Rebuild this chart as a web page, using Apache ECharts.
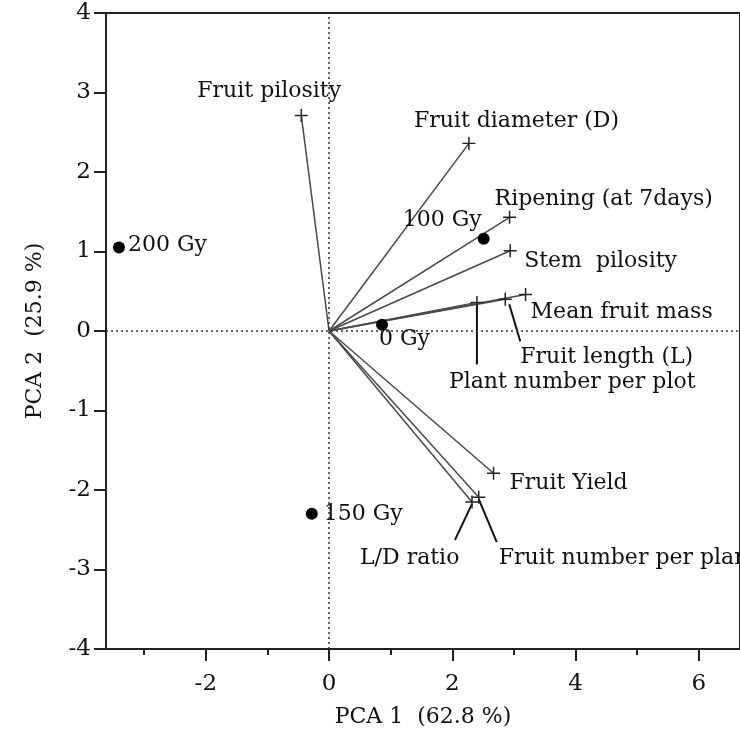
<!DOCTYPE html>
<html><head><meta charset="utf-8">
<script src="https://cdn.jsdelivr.net/npm/echarts@6/dist/echarts.min.js"></script>
<style>html,body{margin:0;padding:0;background:#fff}#c{width:740px;height:733px}</style>
</head><body><div id="c"></div>
<script>
// ---- data ----
const treatNames = ['200 Gy', '100 Gy', '0 Gy', '150 Gy'];
const treatX = [-3.41, 2.51, 0.86, -0.28];
const treatY = [1.05, 1.16, 0.08, -2.30];

const varNames = ['Fruit pilosity', 'Fruit diameter (D)', 'Ripening (at 7days)', 'Stem  pilosity',
  'Mean fruit mass', 'Fruit length (L)', 'Plant number per plot', 'Fruit Yield', 'L/D ratio',
  'Fruit number per plant'];
const varX = [-0.45, 2.27, 2.93, 2.94, 3.19, 2.86, 2.40, 2.67, 2.32, 2.43];
const varY = [2.71, 2.36, 1.43, 1.01, 0.46, 0.40, 0.36, -1.79, -2.15, -2.09];

const xMajorTicks = [-2, 0, 2, 4, 6];
const xMinorTicks = [-3, -1, 1, 3, 5];

// ---- label layout (pixel offsets from the marker) ----
const varLabelDx = [-104, -55, -15, 14, 5, 15, -28, 16, -112, 20];
const varLabelDy = [-24, -22, -18, 11, 18, 58, 80, 10, 56, 61];
const treatLabelDx = [9, -2, -3, 12];
const treatLabelDy = [-2, -18, 15, 0];
const treatLabelAlign = ['left', 'right', 'left', 'left'];
// leader lines: [variable index, x1, y1, x2, y2] offsets in px from marker
const leaders = [[5, 4, 5, 15, 42], [6, 0, 2, 0, 62], [8, 0, 2, -17, 38], [9, 0, 2, 18, 45]];

const FONT = 'DejaVu Serif';
const INK = '#111';
const plus = 'path://M-0.8,-7L0.8,-7L0.8,-0.8L7,-0.8L7,0.8L0.8,0.8L0.8,7L-0.8,7L-0.8,0.8L-7,0.8L-7,-0.8L-0.8,-0.8Z';

const chart = echarts.init(document.getElementById('c'));

const vectorSeries = varNames.map((n, i) => ({
  type: 'line',
  animation: false,
  z: 3,
  lineStyle: { color: '#4a4a4a', width: 1.5 },
  itemStyle: { color: '#222', opacity: 1 },
  showSymbol: true,
  data: [
    { value: [0, 0], symbol: 'none' },
    {
      value: [varX[i], varY[i]], symbol: plus, symbolSize: 13,
      label: {
        show: true, formatter: n, position: 'inside',
        offset: [varLabelDx[i], varLabelDy[i]], align: 'left', verticalAlign: 'middle',
        fontFamily: FONT, fontSize: 22, color: INK
      }
    }
  ]
}));

const xAxisCommon = { type: 'value', min: -3.62, max: 6.67, position: 'bottom', splitLine: { show: false } };

chart.setOption({
  backgroundColor: '#fff',
  animation: false,
  grid: { left: 106, right: -5, top: 13, bottom: 83, show: true, borderColor: '#222', borderWidth: 2, backgroundColor: 'transparent' },
  xAxis: [
    Object.assign({}, xAxisCommon, {
      axisLine: { show: true, onZero: false, lineStyle: { color: '#222', width: 2 } },
      axisTick: { show: true, length: 12, customValues: xMajorTicks, lineStyle: { color: '#222', width: 2 } },
      axisLabel: { customValues: xMajorTicks, margin: 24, fontFamily: FONT, fontSize: 23, color: INK },
      name: 'PCA 1  (62.8 %)', nameLocation: 'middle', nameGap: 57,
      nameTextStyle: { fontFamily: FONT, fontSize: 22, color: INK }
    }),
    Object.assign({}, xAxisCommon, {
      axisLine: { show: false, onZero: false },
      axisTick: { show: true, length: 6, customValues: xMinorTicks, lineStyle: { color: '#222', width: 2 } },
      axisLabel: { show: false }
    })
  ],
  yAxis: {
    type: 'value', min: -4, max: 4, interval: 1, splitLine: { show: false },
    axisLine: { show: true, onZero: false, lineStyle: { color: '#222', width: 2 } },
    axisTick: { show: true, length: 12, lineStyle: { color: '#222', width: 2 } },
    axisLabel: { margin: 15, fontFamily: FONT, fontSize: 23, color: INK },
    name: 'PCA 2  (25.9 %)', nameLocation: 'middle', nameGap: 60,
    nameTextStyle: { fontFamily: FONT, fontSize: 22, color: INK }
  },
  series: [
    {
      type: 'scatter', z: 4, symbolSize: 12, itemStyle: { color: '#000', opacity: 1 },
      data: treatNames.map((n, i) => ({
        value: [treatX[i], treatY[i]],
        label: {
          show: true, formatter: n, position: 'inside', offset: [treatLabelDx[i], treatLabelDy[i]],
          align: treatLabelAlign[i], verticalAlign: 'middle', fontFamily: FONT, fontSize: 22, color: INK, opacity: 1
        }
      })),
      markLine: {
        silent: true, symbol: 'none', label: { show: false },
        lineStyle: { type: [2, 3], color: '#333', width: 1.5, opacity: 1 },
        data: [{ xAxis: 0 }, { yAxis: 0 }]
      }
    },
    {
      type: 'custom', z: 3,
      renderItem: function (params, api) {
        const p = api.coord([api.value(0), api.value(1)]);
        return {
          type: 'line',
          shape: { x1: p[0] + api.value(2), y1: p[1] + api.value(3), x2: p[0] + api.value(4), y2: p[1] + api.value(5) },
          style: { stroke: '#111', lineWidth: 2 }
        };
      },
      data: leaders.map(l => [varX[l[0]], varY[l[0]], l[1], l[2], l[3], l[4]])
    }
  ].concat(vectorSeries)
});
</script></body></html>
